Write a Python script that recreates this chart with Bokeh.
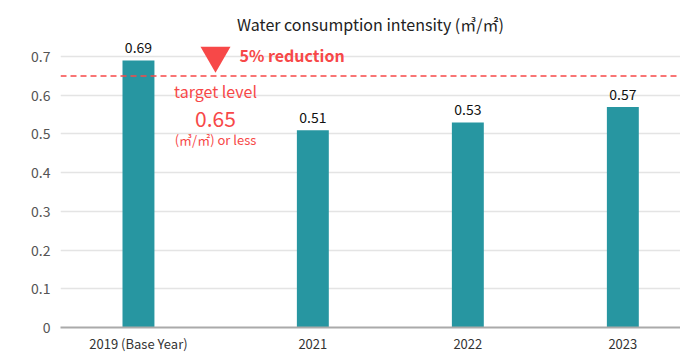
from bokeh.plotting import figure
from bokeh.models import Range1d, FixedTicker, Span, Label, ColumnDataSource
from bokeh.core.properties import value
from bokeh.embed import file_html
from bokeh.resources import INLINE

# ---- data ----
categories = ["2019 (Base Year)", "2021", "2022", "2023"]
intensity = [0.69, 0.51, 0.53, 0.57]
value_labels = ["0.69", "0.51", "0.53", "0.57"]
target_value = 0.65
y_ticks = [0, 0.1, 0.2, 0.3, 0.4, 0.5, 0.6, 0.7]
y_tick_labels = ["0", "0.1", "0.2", "0.3", "0.4", "0.5", "0.6", "0.7"]
title_text = "Water consumption intensity (㎥/㎡)"

FONT = "Noto Sans CJK JP"
TEAL = "#2796a1"
RED = "#f74848"

# base year separated by a small extra gap
gap = 0.125
xs = [i + (gap if i > 0 else 0) for i in range(len(categories))]

p = figure(width=680, height=360, output_backend="svg", toolbar_location=None,
           x_range=Range1d(-0.503, 3.497), y_range=Range1d(0, 0.7416),
           min_border_left=60, min_border_right=0, min_border_top=40,
           min_border_bottom=33)

p.title.text = title_text
p.title.align = "center"
p.title.text_font = FONT
p.title.text_font_size = "16px"
p.title.text_font_style = "normal"
p.title.text_color = "#222222"

src = ColumnDataSource(dict(x=xs, top=intensity, lab=value_labels))
p.vbar(x="x", top="top", width=0.206, source=src, fill_color=TEAL, line_color=None)
p.text(x="x", y="top", text="lab", source=src, text_align="center",
       text_baseline="bottom", y_offset=-7, text_font=value(FONT),
       text_font_size="14px", text_color="#111111")

# target line
p.add_layout(Span(location=target_value, dimension="width", line_color=RED,
                  line_dash="6 4", line_width=1.5))

# annotation
ann_x = 0.497
p.scatter(x=[ann_x], y=[0.703], marker="inverted_triangle", size=30,
          fill_color=RED, line_color=None)
p.add_layout(Label(x=ann_x, y=0.703, text="5% reduction", x_offset=24,
                   text_baseline="middle", text_align="left", text_font=FONT,
                   text_font_size="16px", text_font_style="bold", text_color=RED))
p.add_layout(Label(x=ann_x, y=0.612, text="target level", text_baseline="middle",
                   text_align="center", text_font=FONT, text_font_size="16px",
                   text_color=RED))
p.add_layout(Label(x=ann_x, y=0.540, text="0.65", text_baseline="middle",
                   text_align="center", text_font=FONT, text_font_size="21px",
                   text_color=RED))
p.add_layout(Label(x=ann_x, y=0.486, text="(㎥/㎡) or less", text_baseline="middle",
                   text_align="center", text_font=FONT, text_font_size="13px",
                   text_color=RED))

# axes
p.xaxis.ticker = FixedTicker(ticks=xs)
p.xaxis.major_label_overrides = {x: c for x, c in zip(xs, categories)}
p.xaxis.major_tick_line_color = None
p.xaxis.major_tick_out = 0
p.xaxis.major_tick_in = 0
p.xaxis.minor_tick_line_color = None
p.xaxis.axis_line_color = "#aaaaaa"
p.xaxis.axis_line_width = 2
p.xaxis.major_label_text_font = FONT
p.xaxis.major_label_text_font_size = "13px"
p.xaxis.major_label_text_color = "#333333"
p.xaxis.major_label_standoff = 6

p.yaxis.ticker = FixedTicker(ticks=y_ticks)
p.yaxis.major_label_overrides = {t: l for t, l in zip(y_ticks, y_tick_labels)}
p.yaxis.axis_line_color = None
p.yaxis.major_tick_line_color = None
p.yaxis.major_tick_out = 0
p.yaxis.major_tick_in = 0
p.yaxis.minor_tick_line_color = None
p.yaxis.major_label_text_font = FONT
p.yaxis.major_label_text_font_size = "14px"
p.yaxis.major_label_text_color = "#555555"
p.yaxis.major_label_standoff = 10

p.xgrid.visible = False
p.ygrid.ticker = FixedTicker(ticks=y_ticks)
p.ygrid.grid_line_color = "#e4e4e4"
p.ygrid.grid_line_width = 1.5
p.outline_line_color = None

open("out.html", "w").write(file_html(p, INLINE))
